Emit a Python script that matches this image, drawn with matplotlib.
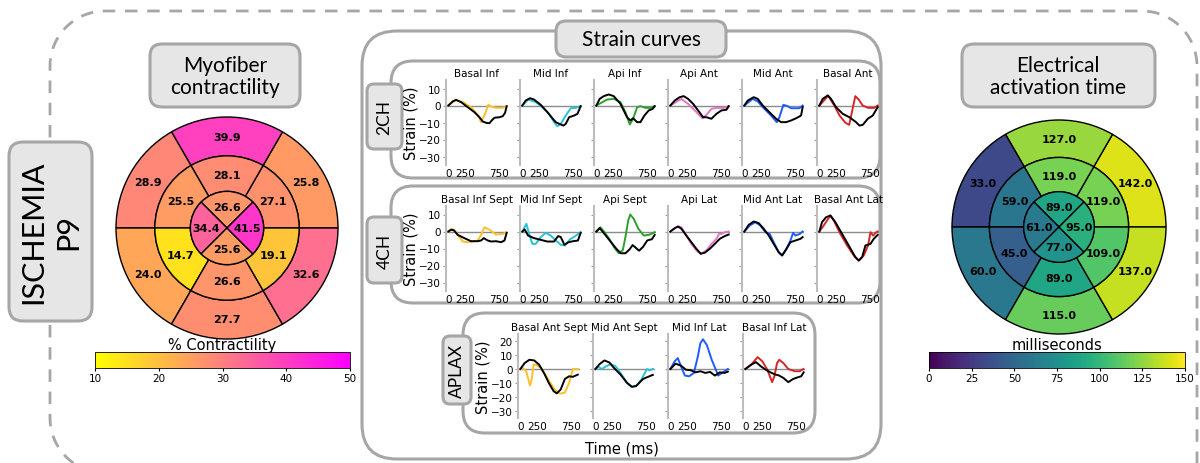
import numpy as np
import matplotlib.pyplot as plt
import matplotlib as mpl
from matplotlib.patches import FancyBboxPatch, Wedge

W, H = 1200, 464

# ---- bullseye values (basal/mid ring: counter-clockwise from upper right, apical: top, left, bottom, right)
contr_basal = [25.8, 39.9, 28.9, 24.0, 27.7, 32.6]
contr_mid = [27.1, 28.1, 25.5, 14.7, 26.6, 19.1]
contr_apical = [26.6, 34.4, 25.6, 41.5]

eat_basal = [142.0, 127.0, 33.0, 60.0, 115.0, 137.0]
eat_mid = [119.0, 119.0, 59.0, 45.0, 89.0, 109.0]
eat_apical = [89.0, 61.0, 77.0, 95.0]

# ---- strain curves, (time ms, strain %) ; ref = black, sim = coloured
titles_2ch = ['Basal Inf', 'Mid Inf', 'Api Inf', 'Api Ant', 'Mid Ant', 'Basal Ant']
titles_4ch = ['Basal Inf Sept', 'Mid Inf Sept', 'Api Sept', 'Api Lat', 'Mid Ant Lat', 'Basal Ant Lat']
titles_aplax = ['Basal Ant Sept', 'Mid Ant Sept', 'Mid Inf Lat', 'Basal Inf Lat']

basal_inf_ref = [(0, 0), (64, 2.4), (113, 3.3), (187, 2.0), (286, -1.0), (384, -3.9), (458, -6.9), (507, -9.4), (557, -10.2), (606, -10.4), (640, -8.8), (680, -7.2), (754, -6.9), (803, -6.3), (837, -4.3), (860, -0.4)]
basal_inf_sim = [(0, 0), (113, 3.3), (212, 2.0), (335, -1.0), (433, -5.5), (483, -9.8), (540, -5.0), (590, 0.5), (620, -0.5), (700, -1.4), (800, -1.4), (860, -0.4)]
mid_inf_ref = [(0, 0), (49, 2.9), (113, 4.3), (172, 3.5), (271, 0.4), (369, -3.9), (443, -7.5), (493, -9.8), (557, -11.0), (606, -11.8), (640, -10.8), (690, -6.9), (764, -5.9), (813, -4.9), (860, -0.4)]
mid_inf_sim = [(0, 0), (84, 3.5), (197, 2.0), (296, -1.0), (394, -4.9), (468, -9.8), (517, -12.2), (567, -10.8), (640, -5.9), (714, -1.6), (788, -1.4), (860, -0.4)]
api_inf_ref = [(0, 0), (49, 3.9), (108, 5.5), (182, 6.5), (256, 5.5), (355, 1.0), (453, -6.9), (502, -8.8), (542, -7.5), (601, -9.8), (650, -9.8), (709, -5.9), (773, -2.9), (830, -2.0), (860, -0.4)]
api_inf_sim = [(0, 0), (158, 3.5), (256, 3.9), (355, 2.0), (429, -3.9), (493, -11.2), (542, -7.8), (601, -1.0), (650, -0.4), (724, -1.4), (798, -1.4), (860, -0.4)]
api_ant_ref = [(0, 0), (64, 2.9), (138, 4.9), (197, 5.5), (261, 3.9), (335, 1.0), (409, -2.9), (483, -6.9), (532, -6.9), (606, -7.8), (680, -4.9), (754, -2.9), (828, -2.5), (860, -0.4)]
api_ant_sim = [(0, 0), (163, 3.9), (261, 1.0), (360, -2.9), (473, -7.5), (532, -5.5), (606, -2.0), (680, -1.4), (803, -1.4), (860, -0.4)]
mid_ant_ref = [(0, 0), (49, 2.9), (138, 4.9), (197, 3.9), (271, 0), (369, -3.9), (468, -7.8), (542, -9.8), (616, -9.8), (690, -8.8), (764, -7.5), (837, -5.9), (860, -1.0)]
mid_ant_sim = [(0, 0), (123, 3.9), (197, 2.4), (296, -2.0), (394, -5.9), (478, -9.8), (517, -6.9), (576, 0.4), (640, -0.4), (690, -1.6), (813, -1.6), (860, 0)]
basal_ant_ref = [(0, 0), (49, 3.9), (123, 5.9), (172, 3.9), (246, -1.0), (345, -4.9), (443, -6.9), (542, -9.8), (591, -11.8), (640, -11.4), (714, -7.8), (788, -5.9), (860, -1.0)]
basal_ant_sim = [(0, 0), (70, 3.0), (130, 5.8), (220, 0), (300, -6.0), (380, -10.0), (440, -11.4), (480, -4.0), (530, 5.5), (580, 3.5), (640, 0), (720, -1.4), (810, -1.4), (860, 0)]

basal_inf_sept_ref = [(0, 0), (39, 1.0), (79, 0.8), (138, -2.0), (236, -3.9), (335, -5.7), (433, -5.7), (483, -5.3), (522, -3.9), (581, -5.3), (631, -5.9), (704, -5.7), (778, -6.3), (828, -5.3), (860, -0.8)]
basal_inf_sept_sim = [(0, 0), (49, 1.6), (113, -0.4), (212, -5.9), (286, -6.3), (360, -5.9), (433, -5.3), (483, -2.0), (532, 2.5), (606, 1.0), (704, -1.8), (803, -1.4), (860, -0.4)]
mid_inf_sept_ref = [(0, 0), (34, 1.2), (84, -2.4), (172, -3.9), (271, -4.9), (369, -5.9), (468, -5.9), (527, -2.7), (567, -3.3), (620, -7.8), (680, -6.3), (750, -5.7), (820, -5.3), (860, -0.8)]
mid_inf_sept_sim = [(0, 0), (59, 4.5), (99, -1.4), (148, -7.3), (197, -7.3), (271, -3.3), (345, -0.8), (419, -2.4), (493, -5.3), (567, -7.8), (630, -8.2), (700, -4.7), (780, -2.7), (860, -0.4)]
api_sept_ref = [(0, 0), (49, 2.0), (99, -0.4), (197, -5.3), (296, -10.2), (360, -12.8), (430, -12.8), (490, -10.5), (535, -8.0), (580, -9.5), (630, -11.3), (690, -9.0), (750, -5.3), (820, -4.5), (860, -2.0)]
api_sept_sim = [(0, 0), (60, 2.5), (120, -0.4), (190, -4.3), (260, -9.2), (330, -12.8), (390, -11.0), (430, -3.0), (470, 6.5), (500, 10.0), (550, 7.5), (620, 1.6), (700, -2.4), (790, -1.8), (860, -0.4)]
api_lat_ref = [(0, 0), (64, 2.0), (113, 2.9), (163, 1.6), (236, -2.4), (310, -6.3), (384, -10.2), (448, -13.1), (507, -12.5), (581, -10.2), (655, -7.3), (729, -4.3), (803, -2.7), (860, -1.8)]
api_lat_sim = [(0, 0), (113, 3.1), (163, 2.5), (236, -2.4), (310, -7.3), (384, -11.2), (448, -13.1), (532, -11.2), (606, -7.3), (680, -4.3), (719, -1.4), (754, -1.4), (803, -0.4), (860, 0)]
mid_ant_lat_ref = [(0, 0), (64, 3.9), (138, 5.9), (212, 4.9), (286, 1.6), (360, -2.4), (433, -7.3), (507, -12.2), (557, -14.1), (606, -11.2), (680, -6.3), (754, -5.3), (828, -4.3), (860, -3.3)]
mid_ant_lat_sim = [(0, 0), (79, 3.5), (163, 5.5), (236, 3.5), (310, -0.4), (374, -1.4), (433, -6.3), (507, -12.2), (557, -14.1), (621, -10.2), (680, -5.3), (719, -0.8), (754, -2.4), (818, -1.4), (860, 0)]
basal_ant_lat_ref = [(0, 0), (39, 5.5), (99, 8.4), (163, 9.4), (236, 5.5), (335, -1.4), (433, -8.2), (532, -15.1), (581, -17.1), (631, -15.1), (680, -8.2), (754, -7.3), (803, -4.3), (860, -2.0)]
basal_ant_lat_sim = [(0, 0), (64, 3.5), (113, 6.5), (163, 9.4), (212, 6.5), (310, -1.4), (409, -8.2), (507, -14.1), (581, -17.1), (655, -14.1), (719, -8.2), (754, -0.4), (793, -2.4), (842, -0.4), (860, 0)]

basal_ant_sept_ref = [(0, 0), (62, 4.2), (133, 6.6), (205, 6.1), (276, 3.1), (348, -2.8), (419, -9.9), (490, -15.8), (538, -17.4), (595, -14.6), (657, -7.1), (719, -5.2), (776, -5.6), (848, -4.0)]
basal_ant_sept_sim = [(0, 0), (38, 0.7), (86, -1.6), (143, -11.8), (167, -7.5), (195, 3.1), (229, 3.1), (300, 0.7), (371, -4.0), (443, -9.9), (514, -15.1), (586, -17.6), (657, -16.9), (719, -9.9), (776, 0), (848, 0)]
mid_ant_sept_ref = [(0, 0), (62, 3.5), (133, 6.1), (205, 4.7), (276, 0.7), (371, -4.0), (467, -9.9), (538, -12.7), (600, -12.2), (657, -9.4), (705, -7.1), (762, -5.9), (848, -4.2)]
mid_ant_sept_sim = [(0, 0), (48, 1.4), (95, 0), (157, 1.9), (229, 3.5), (300, 1.9), (371, -2.8), (467, -9.9), (538, -12.9), (610, -11.8), (681, -7.5), (729, -2.8), (762, 0), (800, -0.9), (848, 0)]
mid_inf_lat_ref = [(0, 0), (76, 3.8), (157, 2.4), (229, -0.5), (300, -0.9), (371, -2.4), (443, -1.6), (514, -2.8), (586, -2.1), (657, -4.7), (729, -2.4), (800, -2.8), (848, -1.9)]
mid_inf_lat_sim = [(0, 0), (62, 5.4), (110, 7.8), (157, 1.9), (214, -4.7), (276, -5.2), (348, -2.8), (405, 8.9), (443, 18.4), (481, 21.2), (538, 17.2), (610, 6.6), (671, -0.5), (705, -4.7), (776, -2.4), (848, 0)]
basal_inf_lat_ref = [(0, 0), (86, 3.1), (157, 4.9), (229, 1.9), (300, -0.5), (371, -2.4), (443, -4.0), (490, -4.5), (562, -6.4), (633, -9.4), (705, -7.1), (776, -5.9), (824, -5.2), (860, -2.4)]
basal_inf_lat_sim = [(0, 0), (86, 3.1), (181, 8.5), (252, 5.4), (324, -0.5), (395, -9.4), (429, -5.2), (467, 4.2), (500, 6.6), (562, 4.2), (633, 0), (729, -1.6), (800, -1.6), (857, 0)]

curves_2ch = [(basal_inf_ref, basal_inf_sim), (mid_inf_ref, mid_inf_sim), (api_inf_ref, api_inf_sim),
              (api_ant_ref, api_ant_sim), (mid_ant_ref, mid_ant_sim), (basal_ant_ref, basal_ant_sim)]
curves_4ch = [(basal_inf_sept_ref, basal_inf_sept_sim), (mid_inf_sept_ref, mid_inf_sept_sim),
              (api_sept_ref, api_sept_sim), (api_lat_ref, api_lat_sim),
              (mid_ant_lat_ref, mid_ant_lat_sim), (basal_ant_lat_ref, basal_ant_lat_sim)]
curves_aplax = [(basal_ant_sept_ref, basal_ant_sept_sim), (mid_ant_sept_ref, mid_ant_sept_sim),
                (mid_inf_lat_ref, mid_inf_lat_sim), (basal_inf_lat_ref, basal_inf_lat_sim)]

colors_6 = ['#fcc02a', '#26c3d6', '#2ca02c', '#e377c2', '#1f5cff', '#d62728']
colors_aplax = ['#fcc02a', '#26c3d6', '#1f5cff', '#d62728']

BOXFONT = ['Lato', 'DejaVu Sans']
GRAYFILL = '#e7e6e6'
EDGE = '#a6a6a6'

fig = plt.figure(figsize=(12, 4.64), dpi=100)

# overlay in pixel coords for boxes and free text
ov = fig.add_axes([0, 0, 1, 1])
ov.set_xlim(0, W)
ov.set_ylim(H, 0)
ov.axis('off')


def px_axes(x, y, w, h):
    return fig.add_axes([x / W, 1 - (y + h) / H, w / W, h / H])


def rbox(x, y, w, h, r, fc='white', ec=EDGE, lw=2.2, z=1, ls='-'):
    p = FancyBboxPatch((x, y), w, h, boxstyle=f"round,pad=0,rounding_size={r}",
                       fc=fc, ec=ec, lw=lw, ls=ls, zorder=z)
    ov.add_patch(p)


# dashed frame (top, left and right sides; bottom runs off the canvas)
R = 55
a1 = np.linspace(0, np.pi / 2, 20)
a2 = np.linspace(np.pi / 2, np.pi, 20)
a3 = np.linspace(np.pi, np.pi / 2, 20)
fx = np.concatenate([[1197], 1142 + R * np.cos(a1), 105 + R * np.cos(a2), 105 + R * np.cos(a3), [200]])
fy = np.concatenate([[480], 67 - R * np.sin(a1), 67 - R * np.sin(a2), 419 + R * np.sin(a3), [474]])
ov.plot(fx, fy, color=EDGE, lw=2, ls=(0, (4.5, 3.5)), zorder=0.5)

# ISCHEMIA label
rbox(9, 143, 83, 179, 14, fc=GRAYFILL, z=3)
ov.text(51, 232, 'ISCHEMIA\nP9', rotation=90, ha='center', va='center', fontsize=22,
        linespacing=1.3, family=BOXFONT, zorder=4)

# title boxes
rbox(150, 45, 150, 63, 12, fc=GRAYFILL, z=3)
ov.text(225, 77, 'Myofiber\ncontractility', ha='center', va='center', fontsize=15,
        family=BOXFONT, linespacing=1.15, zorder=4)
rbox(962, 45, 193, 63, 12, fc=GRAYFILL, z=3)
ov.text(1058, 77, 'Electrical\nactivation time', ha='center', va='center', fontsize=15,
        family=BOXFONT, linespacing=1.15, zorder=4)

# strain curve frames
rbox(362, 32, 519, 428, 35)
rbox(556, 22, 170, 36, 10, fc=GRAYFILL, z=3)
ov.text(641, 40, 'Strain curves', ha='center', va='center', fontsize=15, family=BOXFONT, zorder=4)

rbox(391, 62, 489, 117, 22, z=2)
rbox(391, 187, 489, 117, 22, z=2)
rbox(463, 314, 352, 120, 22, z=2)
for (bx, by, bw, bh, lab) in [(367, 85, 35, 65, '2CH'), (367, 218, 35, 66, '4CH'), (443, 337, 28, 68, 'APLAX')]:
    rbox(bx, by, bw, bh, 7, fc=GRAYFILL, z=3)
    ov.text(bx + bw / 2, by + bh / 2, lab, rotation=90, ha='center', va='center',
            fontsize=12.5, family=BOXFONT, zorder=4)

ov.text(622, 449, 'Time (ms)', ha='center', va='center', fontsize=10.5)


def strain_row(lefts, top, height, titles, curves, colors, ylim, yticks):
    for i, (x0, title, (ref, sim), col) in enumerate(zip(lefts, titles, curves, colors)):
        ax = px_axes(x0, top, 62, height)
        ax.patch.set_alpha(0)
        ax.axhline(0, color='#8c8c8c', lw=1, zorder=1)
        rt, rv = zip(*ref)
        st, sv = zip(*sim)
        ax.plot(st, sv, color=col, lw=1.4, zorder=2)
        ax.plot(rt, rv, color='black', lw=1.4, zorder=3)
        ax.set_xlim(-35, 880)
        ax.set_ylim(*ylim)
        ax.set_xticks([0, 250, 750])
        ax.set_yticks(yticks)
        for s in ['top', 'right', 'bottom']:
            ax.spines[s].set_visible(False)
        ax.spines['left'].set_color('#bdbdbd')
        ax.spines['left'].set_linewidth(1.5)
        ax.tick_params(axis='x', length=0, labelsize=7.5, pad=2)
        ax.tick_params(axis='y', length=2.5, color='#9a9a9a', labelsize=7.5, pad=1.5,
                       labelleft=(i == 0))
        ax.set_title(title, fontsize=7.5, pad=3)
        if i == 0:
            ax.set_ylabel('Strain (%)', fontsize=10.5, labelpad=0)


strain_row([446, 520, 594, 668, 742, 817], 81, 85, titles_2ch, curves_2ch, colors_6,
           (-35, 15), [-30, -20, -10, 0, 10])
strain_row([446, 520, 594, 668, 742, 817], 207, 85, titles_4ch, curves_4ch, colors_6,
           (-35, 15), [-30, -20, -10, 0, 10])
strain_row([518, 593, 668, 743], 335, 84, titles_aplax, curves_aplax, colors_aplax,
           (-35, 25), [-30, -20, -10, 0, 10, 20])


def bullseye(cx, cy, r, basal, mid, apical, cmap, norm, fmt='{:.1f}'):
    lim = 1.035
    half = r * lim
    ax = px_axes(cx - half, cy - half, 2 * half, 2 * half)
    ax.set_xlim(-lim, lim)
    ax.set_ylim(-lim, lim)
    ax.set_aspect('equal')
    ax.axis('off')
    r_mid, r_api = 0.65, 0.33
    for i, v in enumerate(basal):
        t1 = 60 * i
        ax.add_patch(Wedge((0, 0), 1.0, t1, t1 + 60, width=1 - r_mid,
                           fc=cmap(norm(v)), ec='black', lw=1))
        a = np.deg2rad(t1 + 30)
        ax.text(0.82 * np.cos(a), 0.82 * np.sin(a), fmt.format(v), ha='center', va='center',
                fontsize=8, fontweight='bold')
    for i, v in enumerate(mid):
        t1 = 60 * i
        ax.add_patch(Wedge((0, 0), r_mid, t1, t1 + 60, width=r_mid - r_api,
                           fc=cmap(norm(v)), ec='black', lw=1))
        a = np.deg2rad(t1 + 30)
        ax.text(0.48 * np.cos(a), 0.48 * np.sin(a), fmt.format(v), ha='center', va='center',
                fontsize=8, fontweight='bold')
    for i, v in enumerate(apical):
        t1 = 45 + 90 * i
        ax.add_patch(Wedge((0, 0), r_api, t1, t1 + 90,
                           fc=cmap(norm(v)), ec='black', lw=1))
        a = np.deg2rad(t1 + 45)
        ax.text(0.185 * np.cos(a), 0.185 * np.sin(a), fmt.format(v), ha='center', va='center',
                fontsize=8, fontweight='bold')


norm_c = mpl.colors.Normalize(10, 50)
cmap_c = plt.get_cmap('spring_r')
norm_e = mpl.colors.Normalize(0, 150)
cmap_e = plt.get_cmap('viridis')

bullseye(227, 229, 111, contr_basal, contr_mid, contr_apical, cmap_c, norm_c)
bullseye(1059, 228, 107, eat_basal, eat_mid, eat_apical, cmap_e, norm_e)

cax1 = px_axes(95, 353, 255, 16)
cb1 = fig.colorbar(mpl.cm.ScalarMappable(norm=norm_c, cmap=cmap_c), cax=cax1, orientation='horizontal')
cb1.set_ticks([10, 20, 30, 40, 50])
cb1.ax.tick_params(labelsize=7.5, length=2, pad=1.5)
cb1.outline.set_linewidth(0.6)
cax1.set_title('% Contractility', fontsize=10.5, pad=2)

cax2 = px_axes(929, 353, 256, 16)
cb2 = fig.colorbar(mpl.cm.ScalarMappable(norm=norm_e, cmap=cmap_e), cax=cax2, orientation='horizontal')
cb2.set_ticks([0, 25, 50, 75, 100, 125, 150])
cb2.ax.tick_params(labelsize=7.5, length=2, pad=1.5)
cb2.outline.set_linewidth(0.6)
cax2.set_title('milliseconds', fontsize=10.5, pad=2)

fig.savefig('out.png', dpi=100)
